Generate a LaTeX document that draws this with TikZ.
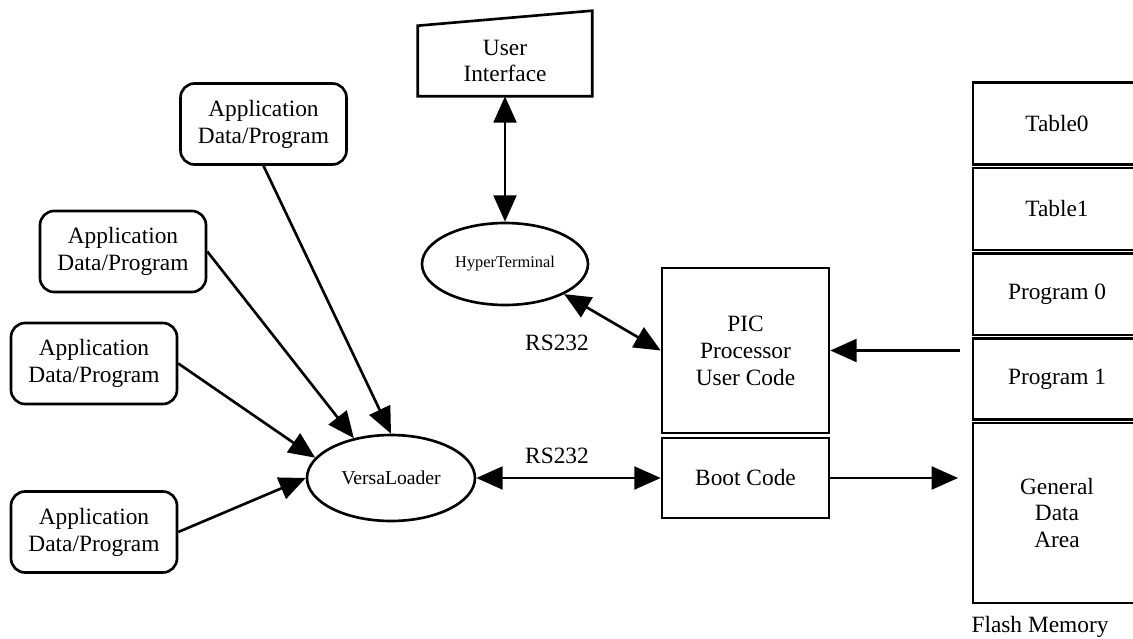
\documentclass[tikz,border=0pt]{standalone}
\usepackage{fontspec}
\setmainfont{Liberation Serif}
\usetikzlibrary{arrows.meta,positioning,shapes.geometric}

\begin{document}
\begin{tikzpicture}[x=0.02cm,y=-0.02cm,line width=1.5pt,
    tip/.tip={Triangle[length=15pt,width=13pt]},
    conn/.style={-tip},
    twoway/.style={tip-tip},
    txt/.style={font=\fontsize{13.3}{15.3}\selectfont,align=center},
    app/.style={txt,draw,rounded corners=8pt,minimum width=3.32cm,minimum height=1.62cm},
    blk/.style={txt,draw,minimum width=3.34cm},
    mem/.style={txt,draw,minimum width=3.36cm,outer sep=0pt},
    oval/.style={draw,ellipse,inner sep=0pt}]
    \useasboundingbox (0,0) rectangle (1133,639);

    % sources
    \node[app] (a1) at (263.5,124) {Application\\Data/Program};
    \node[app] (a2) at (123,251.5) {Application\\Data/Program};
    \node[app] (a3) at (94,363.5) {Application\\Data/Program};
    \node[app] (a4) at (94,532) {Application\\Data/Program};

    \node[oval,minimum width=3.36cm,minimum height=1.72cm,font=\fontsize{11.2}{13}\selectfont] (vl) at (391,478) {VersaLoader};
    \node[oval,minimum width=3.32cm,minimum height=1.64cm,font=\fontsize{9.3}{11}\selectfont] (ht) at (505,264) {HyperTerminal};

    % user interface (manual input)
    \node[txt,minimum width=3.44cm,minimum height=1.36cm] (ui) at (505,61) {User\\Interface};
    \draw (ui.south west) -- (ui.south east) -- ([yshift=0.3cm]ui.north east) -- (ui.north west) -- cycle;

    % target
    \node[blk,minimum height=3.3cm] (pic) at (745.5,350.5) {PIC\\Processor\\User Code};
    \node[blk,minimum height=1.6cm] (boot) at (745.5,478) {Boot Code};

    % flash memory map
    \node[mem,minimum height=1.64cm] (table0) at (1057,123.5) {Table0};
    \node[mem,minimum height=1.64cm,below=0.07cm of table0] (table1) {Table1};
    \node[mem,minimum height=1.63cm,below=0.07cm of table1] (prog0) {Program 0};
    \node[mem,minimum height=1.62cm,below=0.07cm of prog0] (prog1) {Program 1};
    \node[mem,minimum height=3.6cm,below=0.07cm of prog1] (gda) {General\\Data\\Area};
    \node[txt] (flash) at (1040,627) {Flash Memory};

    \node[txt] (rs1) at (557,343) {RS232};
    \node[txt] (rs2) at (557,456) {RS232};

    \path[twoway] (ui.south) edge (ht.north)
    (ht.-27) edge (pic.west)
    (vl) edge (boot);
    \path[conn] (a1.south) edge (vl.north)
    (a2.east) edge (vl.133)
    (a3.east) edge (vl.165)
    (a4.east) edge (vl.west)
    ([xshift=-0.26cm]prog1.west |- pic.east) edge (pic.east)
    (boot.east) edge [shorten >=0.3cm] (boot.east -| gda.west);
\end{tikzpicture}
\end{document}
